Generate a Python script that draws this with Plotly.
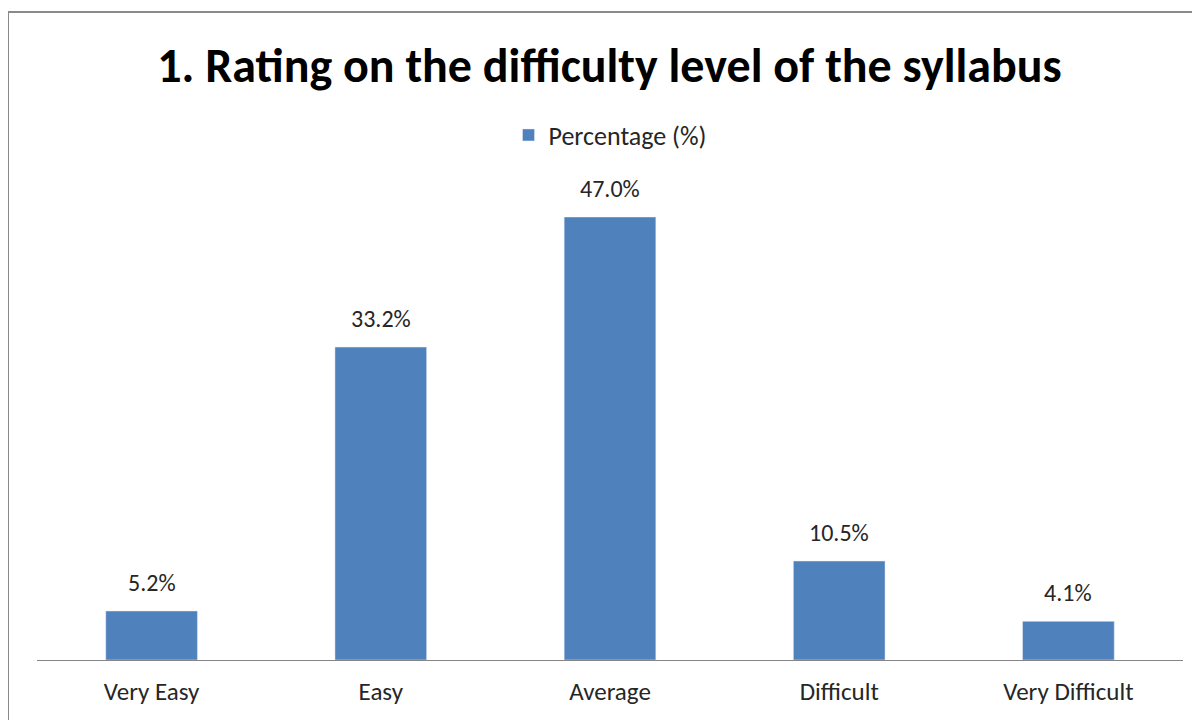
import plotly.graph_objects as go

categories = ["Very Easy", "Easy", "Average", "Difficult", "Very Difficult"]
percentages = [5.2, 33.2, 47.0, 10.5, 4.1]
series_name = "Percentage (%)"
title_text = "1. Rating on the difficulty level of the syllabus"

font_family = "Carlito, Calibri, Lato, sans-serif"
bar_color = "#4f81bd"
text_color = "#262626"

fig = go.Figure(
    data=go.Bar(
        x=categories,
        y=percentages,
        name=series_name,
        marker_color=bar_color,
        width=0.4,
        showlegend=True,
    )
)

# value labels sit a bit higher above the bars than plotly's default
for cat, val in zip(categories, percentages):
    fig.add_annotation(
        x=cat, y=val, text=f"{val:.1f}%",
        showarrow=False, yanchor="bottom", yshift=12,
        font=dict(size=24, color=text_color, family=font_family),
    )

fig.update_layout(
    width=1192,
    height=712,
    margin=dict(l=29, r=17, t=209, b=60),
    paper_bgcolor="white",
    plot_bgcolor="white",
    font=dict(family=font_family, size=24, color=text_color),
    title=dict(
        text="<b>" + title_text + "</b>",
        x=0.5046, xanchor="center",
        y=0.92, yanchor="middle",
        font=dict(size=48, color="black", family=font_family),
    ),
    legend=dict(
        orientation="h",
        x=0.5, xanchor="center",
        y=1.185, yanchor="middle",
        font=dict(size=26, color=text_color),
        itemwidth=30,
    ),
    xaxis=dict(
        showline=True, linecolor="#868686", linewidth=1,
        ticks="", showgrid=False,
        tickfont=dict(size=25, color=text_color),
        ticklabelstandoff=9,
    ),
    yaxis=dict(
        range=[0, 47], visible=False, showgrid=False, zeroline=False,
    ),
    bargap=0.6,
    shapes=[
        dict(
            type="rect", xref="paper", yref="paper",
            x0=-0.0253, x1=1.2, y0=-0.5, y1=1.4628,
            line=dict(color="#8a8a8a", width=2),
            fillcolor="rgba(0,0,0,0)",
        )
    ],
)

fig.write_html("out.html")
